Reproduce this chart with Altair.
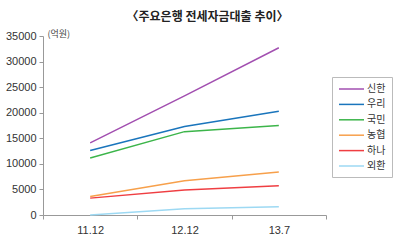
import altair as alt
import pandas as pd

periods = ["11.12", "12.12", "13.7"]
banks = ["신한", "우리", "국민", "농협", "하나", "외환"]
colors = ["#a24fb0", "#1a75bc", "#3cb54a", "#f7a04b", "#ef3e42", "#9dd9f3"]
values = {
    "신한": [14100, 23300, 32700],
    "우리": [12600, 17300, 20300],
    "국민": [11150, 16300, 17500],
    "농협": [3600, 6700, 8400],
    "하나": [3300, 4900, 5700],
    "외환": [0, 1200, 1600],
}
y_ticks = [0, 5000, 10000, 15000, 20000, 25000, 30000, 35000]

rows = []
for b in banks:
    for p, v in zip(periods, values[b]):
        rows.append({"period": p, "bank": b, "value": v})
df = pd.DataFrame(rows)

FONT = "Liberation Sans, Noto Sans CJK KR"

chart = alt.Chart(df).mark_line(strokeWidth=1.5).encode(
    x=alt.X("period:N", sort=periods, bandPosition=0.5,
            scale=alt.Scale(type="band", paddingInner=0, paddingOuter=0),
            axis=alt.Axis(title=None, labelAngle=0, tickBand="extent", grid=False,
                          labelFontSize=11, labelColor="#333", labelFont=FONT,
                          domainColor="#999", tickColor="#999", tickSize=4, labelPadding=5)),
    y=alt.Y("value:Q", scale=alt.Scale(domain=[0, 35000], nice=False),
            axis=alt.Axis(title="(억원)", values=y_ticks, grid=False, format="d",
                          labelFontSize=11, labelColor="#333", labelFont=FONT,
                          domainColor="#999", tickColor="#999", tickSize=4, labelPadding=3,
                          titleAngle=0, titleX=4, titleY=-3, titleAlign="left",
                          titleBaseline="middle", titleFontSize=9, titleFontWeight="normal",
                          titleColor="#444", titleFont="Noto Sans CJK KR")),
    color=alt.Color("bank:N", sort=banks,
                    scale=alt.Scale(domain=banks, range=colors),
                    legend=alt.Legend(title=None, orient="none", legendX=289, legendY=41,
                                      symbolType="M-1,0H4", symbolSize=100,
                                      symbolStrokeWidth=1.5, labelOffset=17,
                                      labelFontSize=10, labelColor="#333",
                                      labelFont="Noto Sans CJK KR",
                                      rowPadding=4.4, padding=6,
                                      strokeColor="#bbb", fillColor="white")),
).properties(
    width=283, height=179,
    title=alt.TitleParams(text="〈주요은행 전세자금대출 추이〉", anchor="middle", dx=23,
                          offset=5, fontSize=12, fontWeight="bold", color="#222",
                          font="Noto Sans CJK KR"),
    autosize=alt.AutoSizeParams(type="none"),
    padding={"left": 43, "top": 36, "right": 74, "bottom": 25},
).configure_view(stroke=None)

chart.save("out.html", embed_options={"renderer": "svg", "actions": False})
